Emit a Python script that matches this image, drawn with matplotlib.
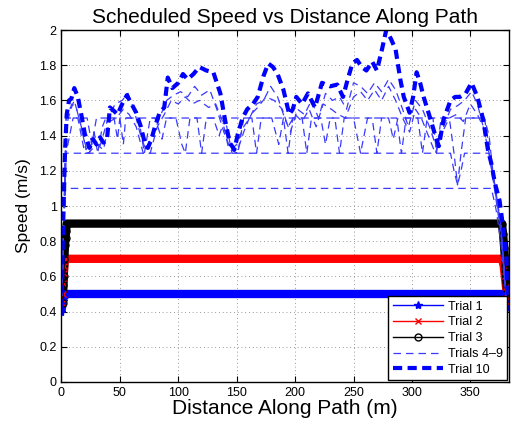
import numpy as np
import matplotlib
matplotlib.use("Agg")
import matplotlib.pyplot as plt

plt.rcParams['font.family'] = ['Liberation Sans', 'DejaVu Sans']

# Trials 1-3: constant speed with short ramps at both ends
t1_x = [0, 0.6, 1.2, 1.8, 2.5, 377, 378.5, 379.5, 380.5, 381.5, 382]
t1_v = [0.40, 0.43, 0.46, 0.48, 0.50, 0.50, 0.49, 0.47, 0.45, 0.43, 0.42]
t2_x = [0.8, 1.2, 1.6, 2.0, 2.5, 3.0, 377, 378.5, 379.5, 380.5, 381.5, 382]
t2_v = [0.45, 0.50, 0.56, 0.62, 0.66, 0.70, 0.70, 0.66, 0.60, 0.54, 0.48, 0.45]
t3_x = [1.2, 1.6, 2.0, 2.5, 3.0, 3.5, 4.0, 4.5, 377, 378, 379, 380, 381, 382]
t3_v = [0.45, 0.55, 0.60, 0.70, 0.78, 0.82, 0.86, 0.90, 0.90, 0.84, 0.76, 0.66, 0.56, 0.48]

# Trials 4-9 (thin dashed)
t4_x = [0, 2, 3.5, 368, 372, 376, 381]
t4_v = [0.42, 0.90, 1.10, 1.10, 0.98, 0.80, 0.45]
t5_x = [0, 2, 4, 333, 336, 339, 342, 345, 366, 371, 376, 381]
t5_v = [0.42, 0.90, 1.30, 1.30, 1.20, 1.12, 1.20, 1.30, 1.30, 1.08, 0.85, 0.45]
t6_x = [0, 2, 4, 14, 17, 20, 24, 28, 31, 35, 38, 50, 53, 55, 66, 71, 76, 98, 103, 106,
        110, 116, 120, 124, 140, 146, 151, 156, 163, 167, 171, 190, 194, 198, 206, 210,
        214, 234, 238, 242, 266, 270, 274, 287, 291, 295, 305, 309, 313, 318, 321, 325,
        362, 366, 370, 376, 381]
t6_v = [0.42, 0.90, 1.50, 1.50, 1.40, 1.30, 1.30, 1.42, 1.30, 1.45, 1.50, 1.50, 1.35, 1.50,
        1.50, 1.30, 1.50, 1.50, 1.35, 1.30, 1.50, 1.50, 1.30, 1.50, 1.50, 1.30, 1.30, 1.50,
        1.50, 1.30, 1.50, 1.50, 1.30, 1.50, 1.50, 1.30, 1.50, 1.50, 1.30, 1.50, 1.50, 1.30,
        1.50, 1.50, 1.30, 1.50, 1.50, 1.30, 1.50, 1.50, 1.30, 1.50, 1.50, 1.40, 1.15, 0.90,
        0.45]
t7_x = [0, 2, 4, 8, 11, 15, 19, 23, 30, 36, 41, 47, 53, 58, 64, 70, 76, 82, 88, 94, 100,
        106, 112, 118, 126, 132, 138, 143, 150, 156, 162, 168, 175, 182, 189, 194, 200,
        206, 212, 218, 224, 231, 237, 243, 250, 256, 262, 268, 274, 280, 286, 292, 298,
        303, 308, 314, 320, 326, 332, 338, 344, 350, 356, 361, 366, 371, 376, 381]
t7_v = [0.42, 0.90, 1.45, 1.55, 1.60, 1.50, 1.38, 1.30, 1.35, 1.32, 1.48, 1.50, 1.55, 1.52,
        1.45, 1.30, 1.30, 1.45, 1.52, 1.60, 1.58, 1.62, 1.58, 1.60, 1.56, 1.58, 1.48, 1.33,
        1.30, 1.42, 1.52, 1.56, 1.62, 1.60, 1.55, 1.45, 1.52, 1.48, 1.55, 1.45, 1.58, 1.55,
        1.52, 1.50, 1.62, 1.65, 1.60, 1.66, 1.60, 1.68, 1.60, 1.50, 1.42, 1.55, 1.50, 1.40,
        1.30, 1.42, 1.50, 1.52, 1.48, 1.58, 1.52, 1.45, 1.30, 1.10, 0.90, 0.45]
t8_x = [0, 2, 4, 9, 13, 17, 21, 27, 33, 40, 46, 52, 57, 62, 67, 72, 78, 84, 90, 96, 102,
        108, 114, 120, 127, 133, 139, 145, 150, 156, 161, 167, 173, 179, 185, 191, 196,
        202, 208, 214, 220, 226, 232, 238, 244, 250, 256, 262, 268, 274, 280, 286, 292,
        297, 303, 309, 315, 321, 327, 333, 339, 345, 351, 356, 361, 366, 371, 376, 381]
t8_v = [0.42, 0.90, 1.50, 1.58, 1.55, 1.45, 1.32, 1.38, 1.34, 1.50, 1.58, 1.60, 1.64, 1.55,
        1.42, 1.32, 1.40, 1.50, 1.60, 1.63, 1.65, 1.62, 1.68, 1.63, 1.66, 1.55, 1.42, 1.32,
        1.35, 1.45, 1.50, 1.58, 1.60, 1.68, 1.62, 1.50, 1.42, 1.55, 1.52, 1.60, 1.50, 1.64,
        1.60, 1.62, 1.55, 1.70, 1.68, 1.64, 1.70, 1.65, 1.72, 1.66, 1.55, 1.45, 1.60, 1.55,
        1.45, 1.33, 1.45, 1.55, 1.57, 1.60, 1.65, 1.58, 1.45, 1.30, 1.12, 0.90, 0.45]
t9_x = [0, 2, 4, 10, 22, 26, 30, 45, 48, 50, 80, 86, 90, 130, 135, 140, 180, 186, 190,
        222, 226, 230, 250, 256, 262, 280, 284, 288, 332, 336, 339, 342, 346, 362, 367,
        372, 377, 381]
t9_v = [0.42, 0.90, 1.30, 1.50, 1.50, 1.35, 1.50, 1.50, 1.38, 1.50, 1.50, 1.38, 1.50, 1.50,
        1.40, 1.50, 1.50, 1.35, 1.50, 1.50, 1.35, 1.50, 1.50, 1.30, 1.50, 1.50, 1.38, 1.50,
        1.50, 1.30, 1.12, 1.30, 1.50, 1.50, 1.30, 1.05, 0.85, 0.45]

# Trial 10 (thick dashed)
t10_x = [0, 1.5, 3, 4.5, 6.5, 8.5, 11, 14, 17, 20, 24, 27, 30, 33, 36, 39, 41.5, 45, 48,
         52, 56, 60, 64, 68, 72, 74, 77, 80, 84, 88, 91, 95, 100, 104, 108, 113, 118, 124,
         130, 136, 140, 144, 148, 151, 155, 159, 164, 168, 173, 177, 181, 185, 190, 195,
         198, 201, 206, 211, 217, 223, 230, 236, 241, 245, 249, 253, 257, 261, 266, 270,
         274, 278, 282, 286, 290, 293, 298, 301, 304, 307, 310, 316, 320, 323, 327, 333,
         337, 341, 346, 351, 356, 361, 365, 368, 371, 375, 378, 381, 382]
t10_v = [0.42, 0.90, 1.30, 1.52, 1.60, 1.61, 1.67, 1.62, 1.52, 1.41, 1.33, 1.38, 1.35, 1.39,
         1.36, 1.38, 1.56, 1.54, 1.52, 1.58, 1.63, 1.58, 1.53, 1.45, 1.34, 1.33, 1.38, 1.45,
         1.53, 1.56, 1.73, 1.67, 1.70, 1.75, 1.72, 1.75, 1.79, 1.77, 1.76, 1.64, 1.49, 1.36,
         1.32, 1.41, 1.50, 1.55, 1.58, 1.62, 1.74, 1.81, 1.79, 1.75, 1.66, 1.52, 1.55, 1.62,
         1.58, 1.64, 1.56, 1.70, 1.68, 1.69, 1.62, 1.72, 1.81, 1.83, 1.79, 1.77, 1.82, 1.77,
         1.88, 2.00, 1.95, 1.89, 1.72, 1.62, 1.53, 1.62, 1.76, 1.70, 1.62, 1.49, 1.40, 1.34,
         1.49, 1.60, 1.62, 1.62, 1.64, 1.70, 1.62, 1.49, 1.32, 1.24, 1.13, 1.03, 0.88, 0.71,
         0.45]

fig = plt.figure(figsize=(5.12, 4.29), dpi=100)
ax = fig.add_axes([0.12, 0.1096, 0.874, 0.8204])

# constant-speed trials: dense markers in the original show up as thick bands
for xs, vs, col in [(t1_x, t1_v, 'b'), (t2_x, t2_v, 'r'), (t3_x, t3_v, 'k')]:
    ax.plot(xs, vs, color=col, lw=6, solid_capstyle='butt')
ax.plot(t1_x, t1_v, 'b-*', lw=1, ms=6, label='Trial 1')
ax.plot(t2_x, t2_v, 'r-x', lw=1, ms=5, label='Trial 2')
ax.plot(t3_x, t3_v, 'k-o', lw=1, ms=5, mfc='none', label='Trial 3')

thin_col = '#3a3aff'
trials = [(t4_x, t4_v), (t5_x, t5_v), (t6_x, t6_v), (t7_x, t7_v), (t8_x, t8_v), (t9_x, t9_v)]
for i, (xs, vs) in enumerate(trials):
    ax.plot(xs, vs, color=thin_col, lw=0.9, dashes=(6, 4),
            label='Trials 4\u20139' if i == 0 else None)

ax.plot(t10_x, t10_v, color='#0000ff', lw=3, dashes=(2.2, 1.3), label='Trial 10')

ax.set_xlim(0, 383)
ax.set_ylim(0, 2)
ax.set_xticks(np.arange(0, 351, 50))
ax.set_yticks(np.arange(0, 2.01, 0.2))
ax.set_yticklabels(['%g' % round(v, 1) for v in np.arange(0, 2.01, 0.2)])
ax.grid(True, ls=(0, (1, 3.5)), color='#777777', lw=0.6)
ax.tick_params(direction='in', top=True, right=True, labelsize=9, length=4)
for s in ax.spines.values():
    s.set_linewidth(1)

ax.set_xlabel('Distance Along Path (m)', fontsize=15, labelpad=0)
ax.set_ylabel('Speed (m/s)', fontsize=12.5, labelpad=6)
ax.set_title('Scheduled Speed vs Distance Along Path', fontsize=15, pad=5)

leg = ax.legend(loc='lower right', fontsize=9, handlelength=4, handletextpad=0.4,
                borderaxespad=0.15, fancybox=False, framealpha=1, labelspacing=0.3,
                borderpad=0.35)
leg.get_frame().set_edgecolor('k')
leg.get_frame().set_linewidth(1)

plt.savefig('out.png', dpi=100)
